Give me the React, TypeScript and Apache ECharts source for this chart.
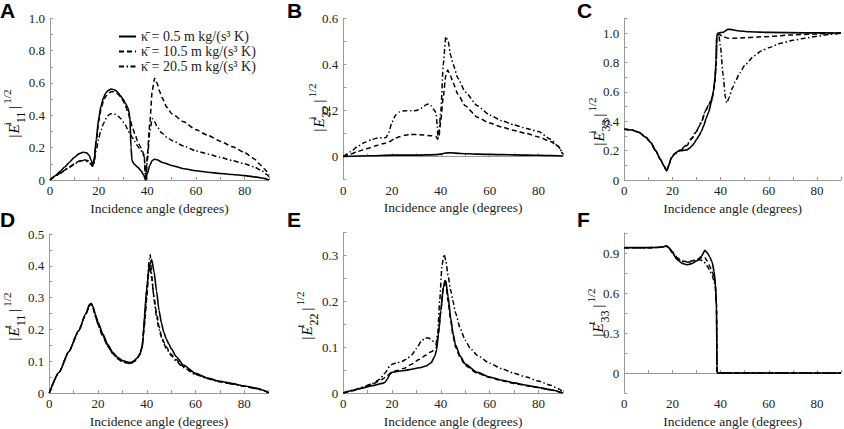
import React, { useEffect, useRef } from 'react';
import * as echarts from 'echarts';

const NAMES = ['κ̄ = 0.5 m kg/(s³ K)', 'κ̄ = 10.5 m kg/(s³ K)', 'κ̄ = 20.5 m kg/(s³ K)'];
const X_TITLE = 'Incidence angle (degrees)';
const PANEL_LETTERS = ['A', 'B', 'C', 'D', 'E', 'F'];
const Y_SUP = ['i', 'i', 'i', 't', 't', 't'];
const Y_SUB = ['11', '22', '33', '11', '22', '33'];

// Panel A: |E^i_11|^1/2
const A_SOLID = [[0,0],[2,0.025],[4,0.05],[6,0.08],[8,0.11],[10,0.14],[12,0.163],[13.5,0.172],[15,0.168],[16,0.155],[17,0.12],[17.6,0.092],[18.2,0.13],[19,0.25],[20,0.38],[21,0.46],[22,0.51],[23,0.54],[24,0.555],[25,0.562],[26,0.56],[27,0.553],[28,0.54],[29,0.52],[30,0.5],[31,0.475],[32,0.445],[32.8,0.4],[33.3,0.2],[33.7,0.12],[34.5,0.1],[36,0.08],[37.5,0.055],[38.5,0.03],[39.3,0],[40,0.04],[41,0.09],[42,0.12],[43,0.128],[44,0.125],[46,0.11],[50,0.09],[55,0.07],[60,0.057],[65,0.048],[70,0.04],[75,0.034],[80,0.027],[85,0.018],[88,0.01],[90,0]];
const A_DASH = [[0,0],[2,0.02],[4,0.04],[6,0.06],[8,0.08],[10,0.1],[12,0.117],[14,0.125],[15.5,0.12],[16.5,0.11],[17.5,0.085],[18,0.11],[19,0.24],[20,0.36],[21,0.44],[22,0.49],[23,0.52],[24,0.535],[25,0.545],[26,0.545],[27,0.54],[28,0.53],[29,0.515],[30,0.49],[31,0.46],[32,0.42],[33,0.37],[34,0.32],[35,0.28],[36,0.24],[37,0.21],[38,0.18],[38.7,0.15],[39.3,0],[40,0.15],[41,0.35],[42,0.55],[43,0.63],[44,0.6],[45,0.55],[46,0.51],[48,0.45],[50,0.41],[55,0.36],[60,0.31],[65,0.275],[70,0.24],[75,0.205],[80,0.17],[84,0.13],[86,0.1],[88,0.07],[90,0.03]];
const A_DOT = [[0,0],[4,0.04],[8,0.08],[12,0.115],[14,0.122],[16,0.11],[17.5,0.085],[18,0.1],[19,0.18],[20,0.26],[21,0.31],[22,0.35],[23,0.38],[24,0.4],[25,0.41],[26,0.41],[27,0.405],[28,0.395],[29,0.38],[30,0.36],[31,0.34],[32,0.31],[33,0.28],[34,0.26],[35,0.235],[36,0.21],[37,0.19],[38,0.17],[38.8,0.14],[39.3,0],[40,0.12],[41,0.3],[42,0.38],[43,0.36],[44,0.33],[46,0.29],[48,0.265],[50,0.245],[55,0.21],[60,0.18],[65,0.16],[70,0.14],[75,0.12],[80,0.1],[84,0.08],[87,0.058],[89,0.035],[90,0.02]];

// Panel B: |E^i_22|^1/2
const B_SOLID = [[0,0],[10,0.003],[20,0.006],[30,0.006],[38,0.008],[40,0.01],[42,0.015],[44,0.016],[48,0.013],[55,0.01],[65,0.008],[75,0.006],[85,0.004],[90,0.002]];
const B_DASH = [[0,0],[3,0.01],[6,0.022],[10,0.035],[13,0.045],[16,0.055],[17.5,0.058],[19,0.065],[21,0.077],[23,0.086],[25,0.092],[27,0.095],[30,0.095],[33,0.093],[36,0.09],[38,0.087],[38.7,0.075],[39.2,0.085],[40,0.16],[41,0.26],[42,0.35],[42.8,0.375],[44,0.35],[45,0.32],[47,0.27],[50,0.22],[55,0.17],[60,0.145],[65,0.128],[70,0.113],[75,0.1],[80,0.085],[85,0.065],[88,0.045],[90,0.01]];
const B_DOT = [[0,0],[3,0.02],[6,0.045],[9,0.062],[12,0.075],[14,0.08],[17.5,0.082],[18.5,0.1],[20,0.15],[21.5,0.18],[23,0.193],[25,0.198],[28,0.198],[30,0.2],[32,0.21],[34,0.225],[35,0.228],[36,0.22],[37,0.205],[38,0.19],[38.5,0.14],[38.8,0.08],[39.2,0.1],[40,0.2],[41,0.4],[42,0.52],[43,0.5],[44,0.44],[45,0.4],[47,0.34],[50,0.28],[55,0.22],[60,0.18],[65,0.155],[70,0.137],[75,0.122],[80,0.108],[85,0.075],[88,0.045],[90,0.01]];

// Panel C: |E^i_33|^1/2
const C_SOLID = [[0,0.345],[3,0.34],[6,0.325],[9,0.29],[11,0.255],[13,0.2],[15,0.14],[16.5,0.095],[17.6,0.062],[18.5,0.1],[19.5,0.15],[21,0.18],[22.5,0.198],[24,0.2],[26,0.205],[27,0.215],[28,0.23],[29,0.25],[30,0.275],[31,0.3],[32,0.33],[33,0.37],[34,0.42],[35,0.46],[36,0.52],[37,0.6],[37.7,0.7],[38.1,0.8],[38.4,0.99],[39,1.0],[41,1.005],[43,1.025],[44,1.025],[47,1.015],[52,1.008],[60,1.004],[75,1.001],[90,1.0]];
const C_DASH = [[0,0.345],[3,0.34],[6,0.325],[9,0.29],[11,0.255],[13,0.2],[15,0.14],[16.5,0.095],[17.6,0.062],[18.5,0.1],[19.5,0.15],[21,0.18],[22,0.19],[24,0.21],[26,0.235],[28,0.28],[30,0.33],[32,0.39],[33.7,0.47],[35,0.51],[36.5,0.56],[37.5,0.65],[38.2,0.8],[38.4,0.99],[39.5,0.99],[41,0.975],[43,0.965],[46,0.965],[50,0.968],[55,0.972],[60,0.977],[70,0.987],[80,0.994],[90,1.0]];
const C_DOT = [[0,0.345],[3,0.34],[6,0.325],[9,0.29],[11,0.255],[13,0.2],[15,0.14],[16.5,0.095],[17.6,0.062],[18.5,0.1],[19.5,0.15],[21,0.18],[22,0.19],[24,0.215],[26,0.24],[28,0.285],[30,0.335],[32,0.395],[33.7,0.47],[35,0.51],[36.5,0.56],[37.5,0.65],[38.2,0.8],[38.4,0.98],[39.2,0.99],[40,0.9],[41,0.72],[42,0.56],[42.6,0.525],[43.5,0.56],[45,0.63],[46,0.666],[48,0.73],[50,0.78],[54,0.846],[57,0.88],[60,0.9],[65,0.93],[70,0.95],[75,0.965],[80,0.978],[85,0.99],[90,1.0]];

// Panel D: |E^t_11|^1/2
const D_SOLID = [[0,0],[4,0.065],[8,0.13],[12,0.195],[15,0.25],[16.5,0.278],[17.2,0.282],[18,0.27],[19,0.245],[20,0.222],[22,0.185],[24,0.152],[26,0.128],[28,0.112],[30,0.102],[32,0.097],[33,0.096],[34,0.098],[35,0.103],[36,0.11],[37,0.12],[38,0.14],[38.5,0.17],[39,0.24],[40,0.33],[41,0.4],[42,0.42],[43,0.38],[44,0.32],[45,0.26],[46,0.22],[47,0.19],[48,0.17],[49,0.155],[50,0.14],[52,0.115],[55,0.088],[60,0.062],[65,0.047],[70,0.037],[75,0.03],[80,0.022],[85,0.015],[88,0.008],[90,0]];
const D_DASH = [[0,0],[4,0.065],[8,0.13],[12,0.195],[15,0.248],[16.5,0.276],[17,0.28],[18,0.265],[19,0.24],[20,0.215],[22,0.178],[24,0.147],[26,0.124],[28,0.108],[30,0.099],[32,0.094],[33,0.093],[34,0.095],[35,0.1],[36,0.108],[37,0.12],[38,0.145],[39,0.21],[40,0.3],[40.8,0.38],[41.3,0.4],[42,0.36],[43,0.3],[44,0.25],[45,0.21],[46,0.18],[47,0.16],[48,0.145],[50,0.122],[52,0.105],[55,0.083],[60,0.06],[65,0.046],[70,0.036],[75,0.029],[80,0.021],[85,0.014],[88,0.008],[90,0]];
const D_DOT = [[0,0],[4,0.065],[8,0.13],[12,0.195],[15,0.248],[16.5,0.276],[17,0.28],[18,0.265],[19,0.24],[20,0.215],[22,0.178],[24,0.147],[26,0.124],[28,0.108],[30,0.099],[32,0.094],[33,0.093],[34,0.095],[35,0.1],[36,0.108],[37,0.12],[38,0.14],[39,0.22],[40,0.33],[41,0.42],[41.4,0.435],[42,0.37],[43,0.29],[44,0.24],[45,0.2],[46,0.175],[47,0.155],[48,0.14],[50,0.118],[52,0.1],[55,0.08],[60,0.058],[65,0.045],[70,0.035],[75,0.028],[80,0.021],[85,0.014],[88,0.008],[90,0]];

// Panel E: |E^t_22|^1/2
const E_SOLID = [[0,0],[4,0.006],[8,0.011],[12,0.016],[16,0.021],[17,0.023],[18,0.03],[19,0.04],[20,0.045],[22,0.047],[25,0.049],[28,0.052],[31,0.055],[34,0.059],[36,0.066],[37.5,0.08],[38.3,0.095],[39,0.13],[40,0.18],[41,0.23],[42,0.245],[43,0.21],[44,0.165],[45,0.13],[46,0.105],[48,0.08],[50,0.063],[55,0.045],[60,0.035],[65,0.028],[70,0.022],[75,0.017],[80,0.012],[85,0.007],[90,0]];
const E_DASH = [[0,0],[4,0.005],[8,0.011],[12,0.02],[16,0.03],[18,0.038],[20,0.046],[22,0.049],[25,0.054],[28,0.063],[31,0.073],[34,0.083],[36,0.09],[38,0.097],[39,0.13],[40,0.18],[41,0.23],[41.8,0.248],[43,0.2],[44,0.16],[45,0.125],[46,0.1],[48,0.077],[50,0.06],[55,0.043],[60,0.034],[65,0.027],[70,0.021],[75,0.016],[80,0.012],[85,0.007],[90,0]];
const E_DOT = [[0,0],[4,0.006],[8,0.013],[12,0.021],[15,0.03],[17,0.043],[19,0.058],[20,0.063],[22,0.066],[24,0.069],[26,0.074],[28,0.083],[30,0.097],[32,0.113],[33.5,0.12],[35,0.12],[36.5,0.114],[38,0.107],[38.7,0.13],[39.5,0.2],[40.5,0.28],[41.3,0.303],[42,0.29],[43,0.255],[44,0.225],[45,0.2],[46,0.175],[48,0.14],[50,0.115],[52,0.098],[55,0.082],[60,0.065],[65,0.053],[70,0.043],[75,0.035],[80,0.026],[85,0.017],[88,0.01],[90,0.003]];

// Panel F: |E^t_33|^1/2
const F_SOLID = [[0,0.94],[10,0.94],[15,0.943],[17.5,0.952],[18.5,0.94],[20,0.9],[22,0.85],[24,0.822],[26,0.812],[28,0.82],[30,0.84],[32,0.875],[33.5,0.92],[34.5,0.9],[35.5,0.87],[36.5,0.83],[37.3,0.76],[37.8,0.68],[38.3,0.5],[38.5,0],[90,0]];
const F_DASH = [[0,0.94],[10,0.94],[15,0.943],[17.5,0.952],[18.5,0.94],[20,0.91],[22,0.865],[24,0.84],[26,0.835],[28,0.84],[30,0.85],[32,0.865],[33.3,0.87],[34.5,0.84],[35.5,0.8],[36.5,0.76],[37.3,0.72],[37.8,0.66],[38.3,0.5],[38.5,0],[90,0]];
const F_DOT = [[0,0.94],[10,0.94],[15,0.943],[17.5,0.952],[18.5,0.94],[20,0.905],[22,0.86],[24,0.835],[26,0.83],[28,0.835],[30,0.845],[31.5,0.85],[33,0.835],[34.5,0.8],[35.5,0.77],[36.5,0.73],[37.3,0.69],[37.8,0.64],[38.3,0.5],[38.5,0],[90,0]];

const PANEL_DATA = [
  [A_SOLID, A_DASH, A_DOT],
  [B_SOLID, B_DASH, B_DOT],
  [C_SOLID, C_DASH, C_DOT],
  [D_SOLID, D_DASH, D_DOT],
  [E_SOLID, E_DASH, E_DOT],
  [F_SOLID, F_DASH, F_DOT],
];

// y-axis ranges: [min, max, tick interval, label step]
const Y_RANGES = [
  [0, 1.0, 0.1, 0.2],
  [-0.1, 0.6, 0.1, 0.2],
  [0, 1.1, 0.1, 0.2],
  [0, 0.5, 0.05, 0.1],
  [0, 0.35, 0.05, 0.1],
  [-0.15, 1.05, 0.15, 0.3],
];

const GRIDS = [
  { left: 50, top: 18.3, width: 219, height: 161.7 },
  { left: 343.3, top: 18.3, width: 219.5, height: 161.2 },
  { left: 624.3, top: 18.3, width: 219.7, height: 161.7 },
  { left: 49.3, top: 234, width: 219.4, height: 161 },
  { left: 343.3, top: 232.7, width: 219.5, height: 162.3 },
  { left: 624.3, top: 233, width: 219.7, height: 162.5 },
];
const LETTER_POS = [[0, 0], [287, 0], [577, 0], [0, 209], [287, 209], [577, 209]];
const YTITLE_POS = [[14, 114], [319, 108], [599, 122], [14, 317], [307, 316], [598, 313]];

const SERIF = 'Liberation Serif';
const SANS = 'Liberation Sans';
const AXIS_COLOR = '#9a9a9a';
const TEXT_COLOR = '#222';
const DASHES: any[] = ['solid', [5, 3], [5, 2.5, 1.5, 2.5]];
const PLAIN = { textBorderWidth: 0, textBorderColor: 'transparent', textShadowBlur: 0 };

export default function App() {
  const ref = useRef<HTMLDivElement>(null);
  useEffect(() => {
    if (!ref.current) return;
    const chart = echarts.init(ref.current, null, { renderer: 'svg' });

    const xAxis = GRIDS.map((_, i) => ({
      type: 'value',
      gridIndex: i,
      min: 0,
      max: 90,
      interval: 10,
      name: X_TITLE,
      nameLocation: 'middle',
      nameGap: 21,
      nameTextStyle: { ...PLAIN, fontFamily: SERIF, fontSize: 13.5, fontWeight: 'normal', color: TEXT_COLOR },
      axisLine: { show: true, lineStyle: { color: AXIS_COLOR, width: 1 } },
      axisTick: { show: true, inside: true, length: 3, lineStyle: { color: AXIS_COLOR } },
      axisLabel: {
        ...PLAIN,
        fontFamily: SERIF,
        fontWeight: 'normal',
        fontSize: 13,
        color: TEXT_COLOR,
        margin: 4,
        formatter: (v: number) => (Math.round(v) % 20 === 0 && v < 89 ? String(Math.round(v)) : ''),
      },
      splitLine: { show: false },
    }));

    const yAxis = Y_RANGES.map(([min, max, interval, step], i) => ({
      type: 'value',
      gridIndex: i,
      min,
      max,
      interval,
      axisLine: { show: true, lineStyle: { color: AXIS_COLOR, width: 1 } },
      axisTick: { show: true, inside: true, length: 3, lineStyle: { color: AXIS_COLOR } },
      axisLabel: {
        ...PLAIN,
        fontFamily: SERIF,
        fontWeight: 'normal',
        fontSize: 13,
        color: TEXT_COLOR,
        margin: 5,
        formatter: (v: number) => {
          const k = v / step;
          if (Math.abs(k - Math.round(k)) > 1e-6) return '';
          if (Math.abs(v) < 1e-9) return '0';
          return v.toFixed(1);
        },
      },
      splitLine: { show: false },
    }));

    const series: any[] = [];
    PANEL_DATA.forEach((panel, i) => {
      panel.forEach((data, j) => {
        series.push({
          type: 'line',
          name: NAMES[j],
          xAxisIndex: i,
          yAxisIndex: i,
          data,
          symbol: 'none',
          showSymbol: false,
          smooth: 0.2,
          smoothMonotone: 'x',
          lineStyle: { color: '#000', width: j === 0 ? 1.6 : 1.5, type: DASHES[j] },
          itemStyle: { color: '#000' },
          z: 3 - j,
        });
      });
    });

    const rich = {
      b: { fontFamily: SERIF, fontSize: 15, lineHeight: 26, verticalAlign: 'middle', color: TEXT_COLOR, padding: [0, 1, 0, 1] },
      e: { fontFamily: SERIF, fontSize: 15, fontStyle: 'italic', lineHeight: 26, verticalAlign: 'middle', color: TEXT_COLOR },
      s: { fontFamily: SERIF, fontSize: 11, lineHeight: 14, verticalAlign: 'top', width: 1, color: TEXT_COLOR },
      u: { fontFamily: SERIF, fontSize: 12, lineHeight: 14, verticalAlign: 'bottom', color: TEXT_COLOR, padding: [0, 2, 0, 0] },
      p: { fontFamily: SERIF, fontSize: 11, lineHeight: 14, verticalAlign: 'top', color: TEXT_COLOR, padding: [0, 0, 0, 1] },
    };

    const graphic: any[] = [];
    PANEL_LETTERS.forEach((L, i) => {
      graphic.push({
        type: 'text',
        x: LETTER_POS[i][0],
        y: LETTER_POS[i][1],
        style: { text: L, font: `bold 21px ${SANS}`, fill: '#000', align: 'left', verticalAlign: 'top' },
      });
      graphic.push({
        type: 'text',
        x: YTITLE_POS[i][0],
        y: YTITLE_POS[i][1],
        rotation: Math.PI / 2,
        style: {
          text: `{b||}{e|E}{s|${Y_SUP[i]}}{u|${Y_SUB[i]}}{b||}{p|1/2}`,
          rich,
          align: 'center',
          verticalAlign: 'middle',
        },
      });
    });

    chart.setOption({
      animation: false,
      backgroundColor: '#fff',
      textStyle: { fontFamily: SERIF, fontWeight: 'normal' },
      grid: GRIDS.map((g) => ({ ...g, containLabel: false })),
      xAxis,
      yAxis,
      series,
      legend: {
        data: NAMES,
        orient: 'vertical',
        left: 113,
        top: 24.5,
        itemWidth: 17,
        itemHeight: 14,
        itemGap: 1,
        selectedMode: false,
        itemStyle: { color: 'transparent', borderColor: 'transparent', borderWidth: 0, opacity: 0 },
        textStyle: { fontFamily: SERIF, fontSize: 14, color: TEXT_COLOR, lineHeight: 14 },
      },
      graphic,
    });
    return () => chart.dispose();
  }, []);

  return (
    <div
      ref={ref}
      style={{ position: 'absolute', left: 0, top: 0, width: 844, height: 429, background: '#fff' }}
    />
  );
}
